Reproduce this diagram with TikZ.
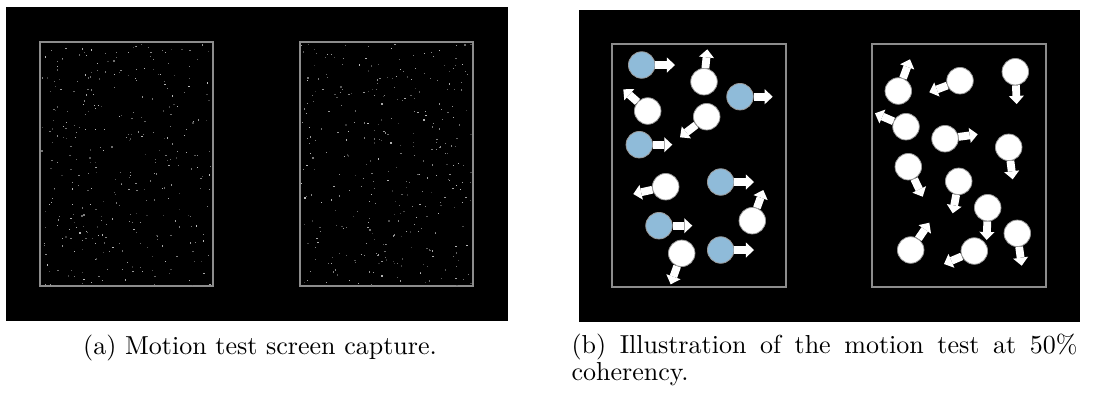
\documentclass[tikz,border=0pt]{standalone}
\usetikzlibrary{arrows.meta}

\definecolor{cueblue}{RGB}{143,187,217}

\tikzset{
  panel/.style={fill=black},
  frame/.style={draw=black!45, line width=0.4pt},
  ball/.style={circle, draw=black!40, line width=0.3pt, fill=white, minimum size=10.2pt, inner sep=0pt},
  cue/.style={ball, fill=cueblue},
  mv/.style={draw=white, line width=3pt, -{Triangle[length=3.1pt, width=5.8pt, line width=0pt]}},
  caption/.style={inner sep=0pt, font=\fontsize{10pt}{10.4pt}\selectfont}
}

\begin{document}
\begin{tikzpicture}[x=0.3846pt, y=-0.3846pt]
    \useasboundingbox (0,0) rectangle (1095,394);

    % Screen capture: black screen, two windows of random dots
    \fill[panel] (6,7) rectangle (508,321);
    \draw[frame] (40,42) rectangle (213,286);
    \draw[frame] (300,42) rectangle (473,286);
    \pgfmathsetseed{31}
    \foreach \wx in {40,300} {
      \foreach \i in {1,...,340} {
        \pgfmathsetmacro\sx{\wx+1+171*rnd}
        \pgfmathsetmacro\sy{43+242*rnd}
        \pgfmathsetmacro\sg{20+55*rnd}
        \fill[white!\sg!black] (\sx,\sy) rectangle ++(1.2,1.2);
      }
    }

    % Illustration: black screen, two windows
    \fill[panel] (579,10) rectangle (1080,322);
    \draw[frame] (612,44) rectangle (786,287);
    \draw[frame] (872,44) rectangle (1046,287);

    % Left window, coherent dots in blue
    \node[cue]  (P1) at (641.7,65) {};
    \node[ball] (P2) at (704,81.7) {};
    \node[cue]  (P3) at (740,96.7) {};
    \node[ball] (P4) at (647.7,111) {};
    \node[ball] (P5) at (706.7,116.7) {};
    \node[cue]  (P6) at (639.3,144.7) {};
    \node[ball] (P7) at (665.7,186.7) {};
    \node[cue]  (P8) at (720.7,182) {};
    \node[ball] (P9) at (752.3,220.7) {};
    \node[cue]  (P10) at (659,225.7) {};
    \node[ball] (P11) at (681.7,253.3) {};
    \node[cue]  (P12) at (720.7,250) {};

    % Heads of the left window's arrows
    \coordinate (P1h) at (675,65);
    \coordinate (P2h) at (707.3,49.3);
    \coordinate (P3h) at (772.7,96.7);
    \coordinate (P4h) at (623.3,89.3);
    \coordinate (P5h) at (680,137.3);
    \coordinate (P6h) at (672.3,144.7);
    \coordinate (P7h) at (633.3,194);
    \coordinate (P8h) at (754,182);
    \coordinate (P9h) at (763.3,190);
    \coordinate (P10h) at (692.3,225.7);
    \coordinate (P11h) at (670.7,284.3);
    \coordinate (P12h) at (754,250);

    % Right window, all dots random
    \node[ball] (Q1) at (898.3,91) {};
    \node[ball] (Q2) at (960,80.7) {};
    \node[ball] (Q3) at (1015.3,71.7) {};
    \node[ball] (Q4) at (906,126.7) {};
    \node[ball] (Q5) at (945,138.7) {};
    \node[ball] (Q6) at (1008.7,147.3) {};
    \node[ball] (Q7) at (908.3,166.7) {};
    \node[ball] (Q8) at (958.7,181.3) {};
    \node[ball] (Q9) at (987.7,207.7) {};
    \node[ball] (Q10) at (1017.3,233.3) {};
    \node[ball] (Q11) at (910.7,250) {};
    \node[ball] (Q12) at (974.3,251) {};

    % Heads of the right window's arrows
    \coordinate (Q1h) at (910,59.3);
    \coordinate (Q2h) at (929.3,92.3);
    \coordinate (Q3h) at (1016.7,104);
    \coordinate (Q4h) at (875,113.3);
    \coordinate (Q5h) at (977.7,134.3);
    \coordinate (Q6h) at (1012.7,179.3);
    \coordinate (Q7h) at (922.7,196.7);
    \coordinate (Q8h) at (952.7,213.3);
    \coordinate (Q9h) at (986.7,240);
    \coordinate (Q10h) at (1021.7,265.7);
    \coordinate (Q11h) at (929.3,222.7);
    \coordinate (Q12h) at (944,264);

    % Motion arrows
    \draw[mv] (P1) -- (P1h);
    \draw[mv] (P2) -- (P2h);
    \draw[mv] (P3) -- (P3h);
    \draw[mv] (P4) -- (P4h);
    \draw[mv] (P5) -- (P5h);
    \draw[mv] (P6) -- (P6h);
    \draw[mv] (P7) -- (P7h);
    \draw[mv] (P8) -- (P8h);
    \draw[mv] (P9) -- (P9h);
    \draw[mv] (P10) -- (P10h);
    \draw[mv] (P11) -- (P11h);
    \draw[mv] (P12) -- (P12h);

    \draw[mv] (Q1) -- (Q1h);
    \draw[mv] (Q2) -- (Q2h);
    \draw[mv] (Q3) -- (Q3h);
    \draw[mv] (Q4) -- (Q4h);
    \draw[mv] (Q5) -- (Q5h);
    \draw[mv] (Q6) -- (Q6h);
    \draw[mv] (Q7) -- (Q7h);
    \draw[mv] (Q8) -- (Q8h);
    \draw[mv] (Q9) -- (Q9h);
    \draw[mv] (Q10) -- (Q10h);
    \draw[mv] (Q11) -- (Q11h);
    \draw[mv] (Q12) -- (Q12h);

    % Captions
    \node[caption, anchor=base west] (capa) at (82.7,354) {(a) Motion test screen capture.};
    \node[caption, anchor=base west, text width=194.6pt, align=justify] (capb) at (571,353)
      {(b) Illustration of the motion test at 50\% \mbox{coherency.}};
\end{tikzpicture}
\end{document}
